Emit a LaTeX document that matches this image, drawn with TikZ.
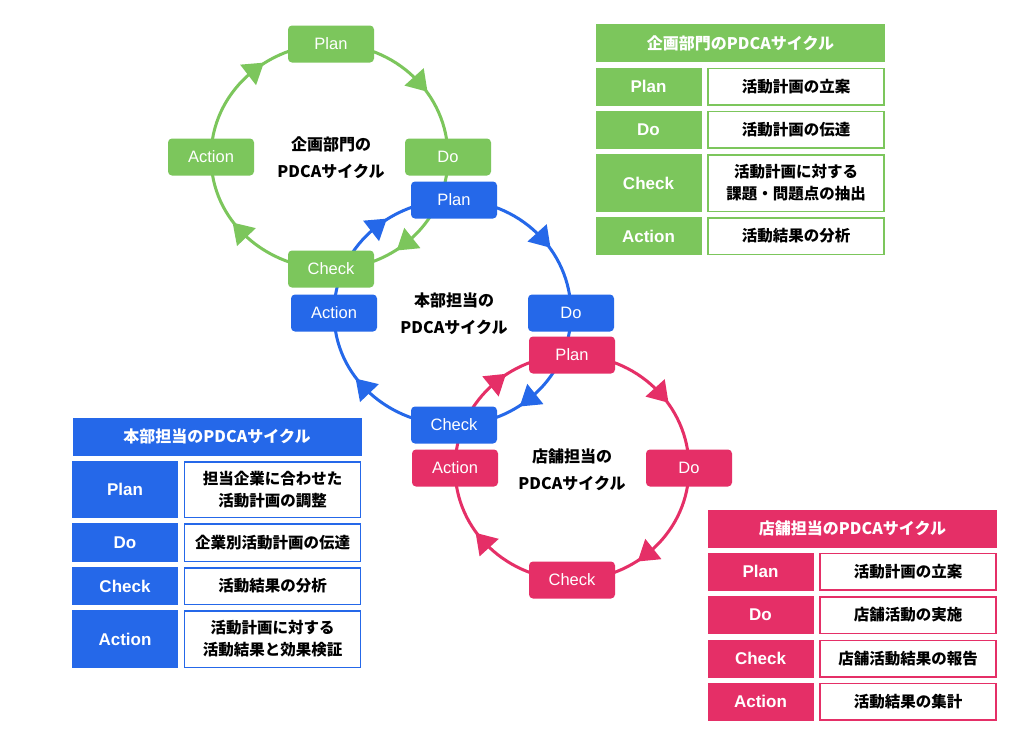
\documentclass[tikz,border=0pt]{standalone}
\usepackage{fontspec}
\setmainfont{Noto Sans CJK JP}
\newfontfamily\latinsans{Liberation Sans}
\usetikzlibrary{decorations.markings,backgrounds}

\definecolor{kgreen}{HTML}{7CC65C}
\definecolor{kblue}{HTML}{2568E9}
\definecolor{kpink}{HTML}{E52F67}

\tikzset{
  phase/.style={fill=#1, rounded corners=4pt, minimum width=86pt, minimum height=37pt,
    inner sep=0pt, text=white, font=\latinsans\fontsize{16.5}{18}\selectfont},
  cycle/.style={draw=#1, line width=3pt, postaction={decorate},
    decoration={markings, mark=at position 0.55 with {\fill[#1] (12pt,0pt) -- (-8pt,13pt) -- (-8pt,-13pt) -- cycle;}}},
  title/.style={align=center, font=\bfseries\fontsize{16}{27}\selectfont},
  head/.style={fill=#1, text=white, minimum width=289pt, minimum height=38pt,
    inner sep=0pt, font=\bfseries\fontsize{16}{18}\selectfont},
  key/.style={fill=#1, text=white, minimum width=106pt, inner sep=0pt,
    font=\latinsans\bfseries\fontsize{17}{18}\selectfont},
  value/.style={draw=#1, line width=1.5pt, fill=white, minimum width=176pt, inner sep=0pt,
    align=center, font=\bfseries\fontsize{15.5}{22}\selectfont}
}

\begin{document}
\begin{tikzpicture}[x=1pt, y=-1pt]
  \path[use as bounding box] (0,0) rectangle (1024,742);

  \node[phase=kgreen] (gP) at (331,44) {Plan};
  \node[phase=kgreen] (gD) at (448,157) {Do};
  \node[phase=kgreen] (gC) at (331,269) {Check};
  \node[phase=kgreen] (gA) at (211,157) {Action};
  \node[title] (gT) at (331,158) {企画部門の\\PDCAサイクル};

  \node[phase=kblue] (bP) at (454,200) {Plan};
  \node[phase=kblue] (bD) at (571,313) {Do};
  \node[phase=kblue] (bC) at (454,425) {Check};
  \node[phase=kblue] (bA) at (334,313) {Action};
  \node[title] (bT) at (454,314) {本部担当の\\PDCAサイクル};

  \node[phase=kpink] (pP) at (572,355) {Plan};
  \node[phase=kpink] (pD) at (689,468) {Do};
  \node[phase=kpink] (pC) at (572,580) {Check};
  \node[phase=kpink] (pA) at (455,468) {Action};
  \node[title] (pT) at (572,470) {店舗担当の\\PDCAサイクル};

  \begin{scope}[on background layer]
    \fill[white] (0,0) rectangle (1024,742);
    \draw[cycle=kgreen] (gP.center) to[out=0, in=90] (gD.center);
    \draw[cycle=kgreen] (gD.center) to[out=-90, in=0] (gC.center);
    \draw[cycle=kgreen] (gC.center) to[out=180, in=-90] (gA.center);
    \draw[cycle=kgreen] (gA.center) to[out=90, in=180] (gP.center);
    \draw[cycle=kblue] (bP.center) to[out=0, in=90] (bD.center);
    \draw[cycle=kblue] (bD.center) to[out=-90, in=0] (bC.center);
    \draw[cycle=kblue] (bC.center) to[out=180, in=-90] (bA.center);
    \draw[cycle=kblue] (bA.center) to[out=90, in=180] (bP.center);
    \draw[cycle=kpink] (pP.center) to[out=0, in=90] (pD.center);
    \draw[cycle=kpink] (pD.center) to[out=-90, in=0] (pC.center);
    \draw[cycle=kpink] (pC.center) to[out=180, in=-90] (pA.center);
    \draw[cycle=kpink] (pA.center) to[out=90, in=180] (pP.center);
  \end{scope}

  \node[head=kgreen] (gHead) at (740.5,43) {企画部門のPDCAサイクル};
  \node[key=kgreen, minimum height=38pt] (gPlanKey) at (648.5,86.5) {Plan};
  \node[value=kgreen, minimum height=36.5pt] (gPlanVal) at (796,86.5) {活動計画の立案};
  \node[key=kgreen, minimum height=38pt] (gDoKey) at (648.5,129.5) {Do};
  \node[value=kgreen, minimum height=36.5pt] (gDoVal) at (796,129.5) {活動計画の伝達};
  \node[key=kgreen, minimum height=58pt] (gCheckKey) at (648.5,183) {Check};
  \node[value=kgreen, minimum height=56.5pt] (gCheckVal) at (796,183) {活動計画に対する\\課題・問題点の抽出};
  \node[key=kgreen, minimum height=38pt] (gActKey) at (648.5,236) {Action};
  \node[value=kgreen, minimum height=36.5pt] (gActVal) at (796,236) {活動結果の分析};

  \node[head=kblue] (bHead) at (217,436.5) {本部担当のPDCAサイクル};
  \node[key=kblue, minimum height=57pt] (bPlanKey) at (125,489.5) {Plan};
  \node[value=kblue, minimum height=55.5pt] (bPlanVal) at (272.5,489.5) {担当企業に合わせた\\活動計画の調整};
  \node[key=kblue, minimum height=39pt] (bDoKey) at (125,542.5) {Do};
  \node[value=kblue, minimum height=37.5pt] (bDoVal) at (272.5,542.5) {企業別活動計画の伝達};
  \node[key=kblue, minimum height=38pt] (bCheckKey) at (125,586) {Check};
  \node[value=kblue, minimum height=36.5pt] (bCheckVal) at (272.5,586) {活動結果の分析};
  \node[key=kblue, minimum height=58pt] (bActKey) at (125,639) {Action};
  \node[value=kblue, minimum height=56.5pt] (bActVal) at (272.5,639) {活動計画に対する\\活動結果と効果検証};

  \node[head=kpink] (pHead) at (852.5,528.5) {店舗担当のPDCAサイクル};
  \node[key=kpink, minimum height=38pt] (pPlanKey) at (760.5,571.5) {Plan};
  \node[value=kpink, minimum height=36.5pt] (pPlanVal) at (908,571.5) {活動計画の立案};
  \node[key=kpink, minimum height=38pt] (pDoKey) at (760.5,615) {Do};
  \node[value=kpink, minimum height=36.5pt] (pDoVal) at (908,615) {店舗活動の実施};
  \node[key=kpink, minimum height=38pt] (pCheckKey) at (760.5,658.5) {Check};
  \node[value=kpink, minimum height=36.5pt] (pCheckVal) at (908,658.5) {店舗活動結果の報告};
  \node[key=kpink, minimum height=38pt] (pActKey) at (760.5,701.5) {Action};
  \node[value=kpink, minimum height=36.5pt] (pActVal) at (908,701.5) {活動結果の集計};
\end{tikzpicture}
\end{document}
